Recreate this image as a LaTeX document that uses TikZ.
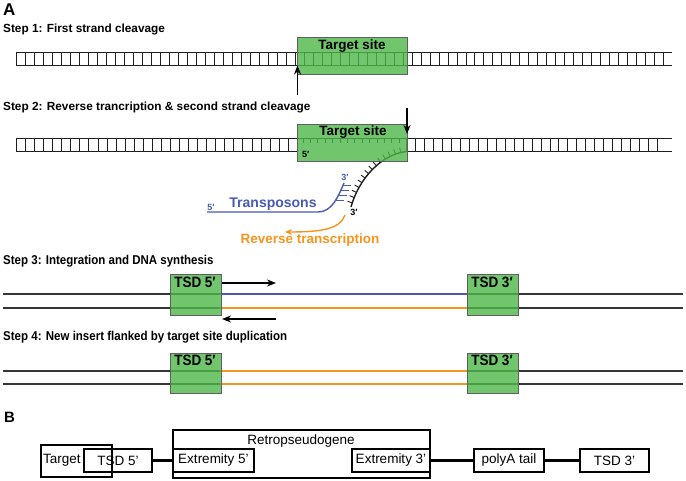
\documentclass[tikz,border=0pt]{standalone}
\usepackage{fontspec}
\setmainfont{Liberation Sans}
\newfontfamily\narrowfont[FakeStretch=0.9]{Liberation Sans}
\usetikzlibrary{arrows.meta,decorations.markings}
\definecolor{boxgreen}{RGB}{77,183,73}
\definecolor{boxedge}{RGB}{95,95,95}
\definecolor{tblue}{RGB}{72,90,178}
\definecolor{torange}{RGB}{247,148,30}
\definecolor{strandgray}{RGB}{30,30,30}
\begin{document}
\begin{tikzpicture}[x=1pt,y=-1pt,
  strand/.style={line width=1.4pt, draw=strandgray},
  rung/.style={line width=1.2pt, draw=strandgray},
  tick/.style={line width=0.9pt, draw=strandgray},
  sitebox/.style={draw=boxedge, line width=1pt, fill=boxgreen, fill opacity=0.8, rectangle, inner sep=0pt, anchor=north west},
  steptext/.style={font=\bfseries\fontsize{11.8}{12}\selectfont, anchor=base west, inner sep=0pt},
  steptextn/.style={font=\narrowfont\bfseries\fontsize{12.8}{13}\selectfont, anchor=base west, inner sep=0pt},
  sitetext/.style={font=\bfseries\fontsize{13.5}{14}\selectfont, anchor=base, inner sep=0pt},
  tsdtext/.style={font=\narrowfont\bfseries\fontsize{15}{15}\selectfont, anchor=base, inner sep=0pt},
  small/.style={font=\bfseries\fontsize{9}{9}\selectfont, inner sep=0pt},
  panel/.style={font=\bfseries\fontsize{17}{17}\selectfont, anchor=base west, inner sep=0pt},
  bigarrow/.style={line width=1.5pt, draw=black, -{Stealth[length=9pt,width=7pt]}},
  dnaline/.style={line width=1.6pt, draw=strandgray!90},
  bbox/.style={draw, line width=2pt, rectangle, inner sep=0pt, font=\fontsize{13.5}{14}\selectfont},
  conn/.style={line width=2.2pt, draw=black}
]
\useasboundingbox (0,0) rectangle (686,481);

% ---------- Panel A ----------
\node[panel] (labA) at (3,16) {A};

% Step 1
\node[steptext] (s1) at (3,33) {Step 1: First strand cleavage};
\draw[strand] (16,52.5) -- (672,52.5) (16,65.5) -- (672,65.5);
\foreach \i in {0,...,72} {\pgfmathsetmacro{\xx}{round(16+\i*8.99)+0.5}\draw[rung] (\xx,52.5) -- ++(0,13);}
\node[sitebox, minimum width=110pt, minimum height=37pt] (ts1) at (297,37) {};
\node[sitetext] (ts1t) at (352,50) {Target site};
\coordinate (a1s) at (297.5,95);
\coordinate (a1e) at (297.5,65.5);
\draw[bigarrow] (a1s) -- (a1e);

% Step 2
\node[steptext] (s2) at (3,111) {Step 2: Reverse trancription \& second strand cleavage};
\draw[strand] (16,138.5) -- (297,138.5) (16,151.5) -- (297,151.5);
\foreach \i in {0,...,31} {\pgfmathsetmacro{\xx}{round(16+\i*9.06)+0.5}\draw[rung] (\xx,138.5) -- ++(0,13);}
\draw[strand] (406,138.5) -- (672,138.5) (406,151.5) -- (672,151.5);
\foreach \i in {0,...,28} {\pgfmathsetmacro{\xx}{round(406+\i*8.97)+0.5}\draw[rung] (\xx,138.5) -- ++(0,13);}
\draw[strand] (297,138.5) -- (406,138.5);
\foreach \i in {0,...,13} \draw[tick] ({303+\i*7.4},138.5) -- ++(0,4.5);
\draw[strand, decoration={markings, mark=between positions 0.07 and 0.97 step 5.6pt with {\draw[tick] (0,0) -- (0,5);}}, postaction={decorate}]
  (406.5,151.5) .. controls (382,154) and (359,178) .. (351,207);
\node[sitebox, minimum width=110pt, minimum height=37pt] (ts2) at (297,124) {};
\node[sitetext] (ts2t) at (353,136) {Target site};
\node[small, anchor=base west] (p5a) at (302,158) {5′};
\coordinate (a2s) at (407,108);
\coordinate (a2e) at (407,134);
\draw[bigarrow] (a2s) -- (a2e);

% transposon
\draw[line width=1.4pt, draw=tblue] (207,212) -- (318,212) .. controls (332,212) and (338,197) .. (344,183);
\foreach \yy/\xa in {186/342.5,191/340.5,196/338.5,201/336} \draw[line width=1pt, draw=tblue] (\xa,\yy) -- ++(8,0);
\node[small, text=tblue] (b3) at (345,177) {3′};
\node[small, text=tblue] (b5) at (211,207) {5′};
\node[font=\bfseries\fontsize{14}{14}\selectfont, text=tblue, anchor=base, inner sep=0pt] (tr) at (273,208) {Transposons};
\node[small] (k3) at (354,212) {3′};

% reverse transcription
\coordinate (o1) at (345,215);
\coordinate (o2) at (285,232);
\draw[line width=1.4pt, draw=torange, -{Stealth[length=7pt,width=6pt]}] (o1) .. controls (340,229) and (322,232) .. (o2);
\node[font=\bfseries\fontsize{13.5}{14}\selectfont, text=torange, anchor=base, inner sep=0pt] (rt) at (310,244) {Reverse transcription};

% Step 3
\node[steptextn] (s3) at (3,265) {Step 3: Integration and DNA synthesis};
\draw[dnaline] (3,294) -- (683,294) (3,308) -- (683,308);
\draw[line width=1.6pt, draw=tblue] (220,294) -- (468,294);
\draw[line width=1.6pt, draw=torange] (220,308) -- (468,308);
\node[sitebox, minimum width=51pt, minimum height=41pt] (t35) at (170,274) {};
\node[sitebox, minimum width=51pt, minimum height=41pt] (t33) at (467,274) {};
\node[tsdtext] (t35t) at (195,288) {TSD 5′};
\node[tsdtext] (t33t) at (492,288) {TSD 3′};
\coordinate (r1) at (222,283);
\coordinate (r2) at (276,283);
\coordinate (l1) at (276,319);
\coordinate (l2) at (222,319);
\draw[bigarrow] (r1) -- (r2);
\draw[bigarrow] (l1) -- (l2);

% Step 4
\node[steptextn] (s4) at (3,341) {Step 4: New insert flanked by target site duplication};
\draw[dnaline] (3,371) -- (683,371) (3,384) -- (683,384);
\draw[line width=1.6pt, draw=torange] (220,371) -- (468,371) (220,384) -- (468,384);
\node[sitebox, minimum width=51pt, minimum height=40pt] (t45) at (170,353) {};
\node[sitebox, minimum width=51pt, minimum height=40pt] (t43) at (467,353) {};
\node[tsdtext] (t45t) at (195,365) {TSD 5′};
\node[tsdtext] (t43t) at (492,365) {TSD 3′};

% ---------- Panel B ----------
\node[panel, font=\bfseries\fontsize{15}{15}\selectfont] (labB) at (4,422) {B};
\node[bbox, minimum width=71pt, minimum height=32pt, text width=67pt, align=left] (tg) at (76.5,460.5) {Target};
\node[bbox, minimum width=68pt, minimum height=23pt] (tsd5) at (118,460.5) {TSD 5'};
\node[bbox, minimum width=257pt, minimum height=48pt] (retro) at (301.5,454) {};
\node[font=\fontsize{13.5}{14}\selectfont, anchor=base, inner sep=0pt] (retrot) at (301,444) {Retropseudogene};
\node[bbox, minimum width=81pt, minimum height=23pt] (ex5) at (213.5,460.5) {Extremity 5'};
\node[bbox, minimum width=78pt, minimum height=23pt] (ex3) at (391,460.5) {Extremity 3'};
\node[bbox, minimum width=70pt, minimum height=23pt] (pa) at (509,460.5) {polyA tail};
\node[bbox, minimum width=69pt, minimum height=23pt] (tsd3) at (614.5,460.5) {TSD 3'};
\draw[conn] (tsd5.east) -- (ex5.west);
\draw[conn] (ex3.east) -- (pa.west);
\draw[conn] (pa.east) -- (tsd3.west);
\end{tikzpicture}
\end{document}
